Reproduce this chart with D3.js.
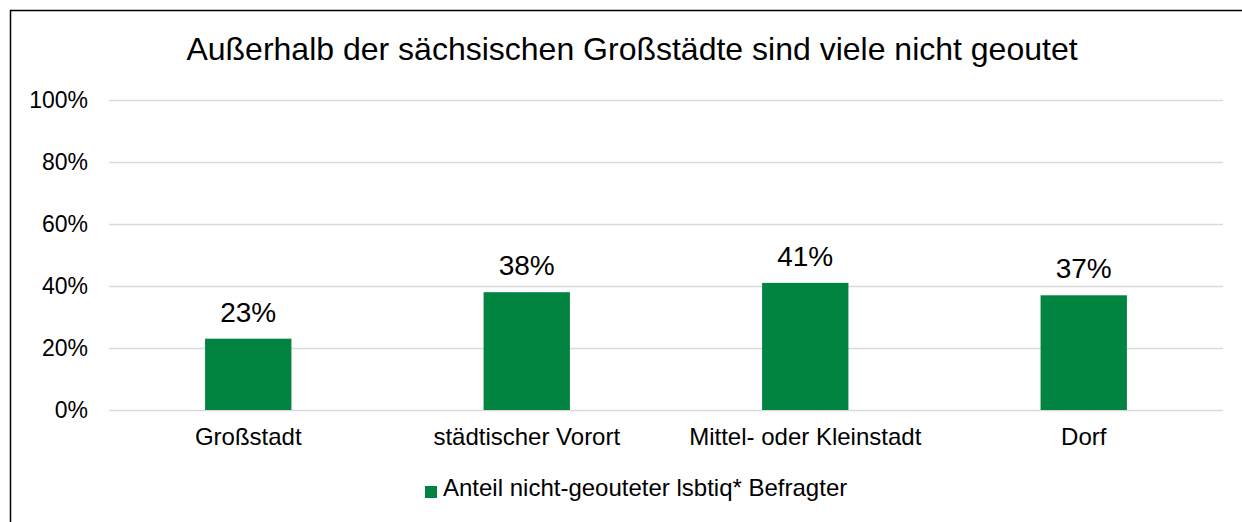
<!DOCTYPE html>
<html>
<head>
<meta charset="utf-8">
<script src="https://cdn.jsdelivr.net/npm/d3@7"></script>
<style>
  body { margin: 0; background: #fff; }
  text { font-family: "Liberation Sans", Arial, sans-serif; fill: #000; }
</style>
</head>
<body>
<div id="chart"></div>
<script>
// Chart data
const categories = ["Großstadt", "städtischer Vorort", "Mittel- oder Kleinstadt", "Dorf"];
const values = [23, 38, 41, 37];
const yTicks = [0, 20, 40, 60, 80, 100];
const seriesName = "Anteil nicht-geouteter lsbtiq* Befragter";
const chartTitle = "Außerhalb der sächsischen Großstädte sind viele nicht geoutet";

const width = 1242, height = 522;
const margin = { top: 100, right: 19, bottom: 112, left: 109 };
const innerW = width - margin.left - margin.right,
  innerH = height - margin.top - margin.bottom;
const green = "#00843f";

const svg = d3.select("#chart")
  .append("svg")
  .attr("width", width)
  .attr("height", height);

// Outer frame (only top and left edges visible)
svg.append("rect")
  .attr("x", 10.5)
  .attr("y", 10.5)
  .attr("width", width + 20)
  .attr("height", height + 20)
  .attr("fill", "none")
  .attr("stroke", "#000")
  .attr("stroke-width", 1.5);

// Title
svg.append("text")
  .attr("x", 632)
  .attr("y", 60)
  .attr("text-anchor", "middle")
  .style("font-size", "32px")
  .text(chartTitle);

const g = svg.append("g")
  .attr("transform", "translate(" + margin.left + "," + margin.top + ")");

const x = d3.scaleBand()
  .domain(categories)
  .range([0, innerW])
  .paddingInner(0.69)
  .paddingOuter(0.345);

const y = d3.scaleLinear()
  .domain([0, 100])
  .range([innerH, 0]);

// Gridlines
g.append("g")
  .attr("class", "y-grid")
  .call(d3.axisLeft(y).tickValues(yTicks).tickSize(-innerW).tickFormat(""))
  .call(s => s.select(".domain").remove())
  .selectAll("line")
  .attr("stroke", "#d9d9d9")
  .attr("stroke-width", 1.5);

// Y-axis labels
g.append("g")
  .attr("class", "axis-y")
  .call(d3.axisLeft(y).tickValues(yTicks).tickSize(0).tickPadding(21).tickFormat(d => d + "%"))
  .call(s => s.select(".domain").remove())
  .selectAll("text")
  .style("font-size", "23px")
  .style("font-family", "Liberation Sans, Arial, sans-serif");

// Bars
g.selectAll(".bar")
  .data(values)
  .join("rect")
  .attr("class", "bar")
  .attr("x", (d, i) => x(categories[i]))
  .attr("y", d => y(d))
  .attr("width", x.bandwidth())
  .attr("height", d => innerH - y(d))
  .attr("fill", green);

// Value labels
g.selectAll(".val")
  .data(values)
  .join("text")
  .attr("class", "val")
  .attr("x", (d, i) => x(categories[i]) + x.bandwidth() / 2)
  .attr("y", d => y(d) - 17)
  .attr("text-anchor", "middle")
  .style("font-size", "28px")
  .text(d => d + "%");

// X-axis labels
g.append("g")
  .attr("class", "axis-x")
  .attr("transform", "translate(0," + innerH + ")")
  .call(d3.axisBottom(x).tickSize(0).tickPadding(18))
  .call(s => s.select(".domain").remove())
  .selectAll("text")
  .style("font-size", "24px")
  .style("font-family", "Liberation Sans, Arial, sans-serif");

// Legend
const legend = svg.append("g")
  .attr("transform", "translate(425,486)");

legend.append("rect")
  .attr("width", 12)
  .attr("height", 12)
  .attr("fill", green);

legend.append("text")
  .attr("x", 18)
  .attr("y", 10)
  .style("font-size", "24px")
  .text(seriesName);
</script>
</body>
</html>
